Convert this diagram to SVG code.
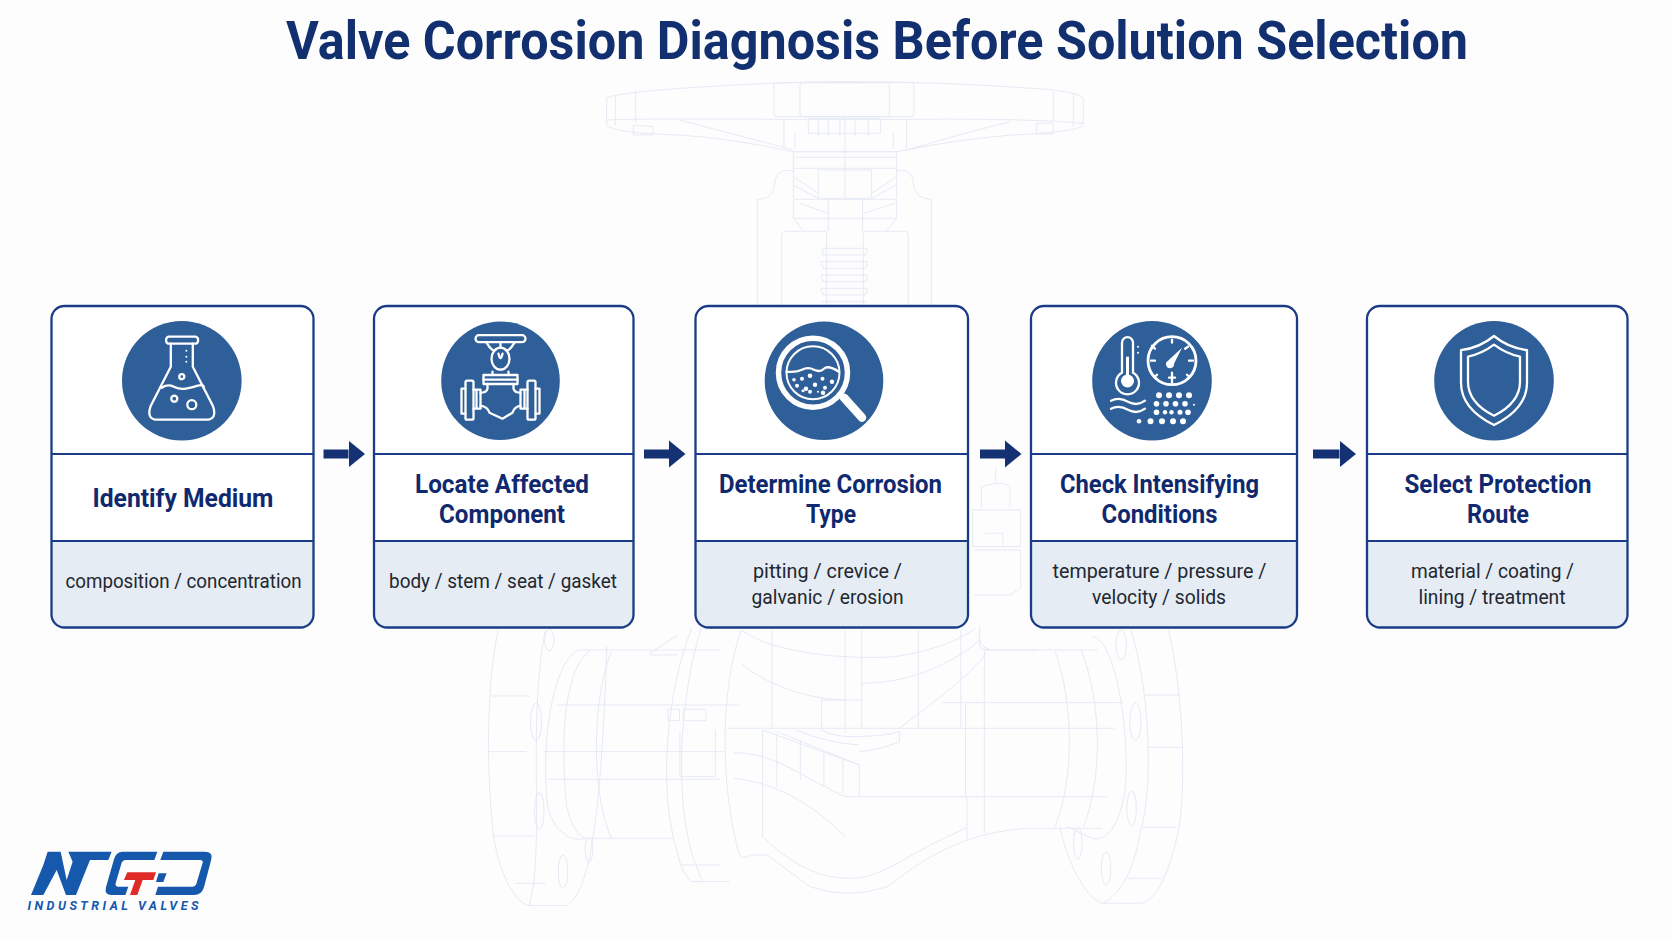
<svg xmlns="http://www.w3.org/2000/svg" width="1672" height="941" viewBox="0 0 1672 941">
<style>
.bg{fill:#fdfdfe}
.wm path,.wm line,.wm rect,.wm ellipse{fill:none;stroke:#e6eaf4;stroke-width:1;vector-effect:non-scaling-stroke}
.card{fill:#fff;stroke:none}
.panel{fill:#e6ecf4}
.frame{fill:none;stroke:#1a3c86;stroke-width:2.3}
.div{stroke:#1a3c86;stroke-width:2}
.disc{fill:#2f5f98}
.ic{fill:none;stroke:#fff;stroke-width:2.3;stroke-linecap:round;stroke-linejoin:round}
.dot{fill:#fff}
.t{font-family:Roboto,"Liberation Sans",sans-serif;font-weight:700;font-size:26px;fill:#10296e;text-anchor:middle}
.s{font-family:Roboto,"Liberation Sans",sans-serif;font-weight:400;font-size:20.5px;fill:#222730;text-anchor:middle}
.conn{stroke:#143273;stroke-width:9;fill:none}
.head{fill:#143273}
.logo{fill:#1558ac}
</style>
<defs>
<marker id="arr" markerUnits="userSpaceOnUse" markerWidth="17" markerHeight="28" refX="0" refY="14" orient="auto"><path class="head" d="M0,0.5 L16.5,14 L0,27.5Z"/></marker>
</defs>
<rect class="bg" width="1672" height="941"/>
<text id="title" x="877" y="59" font-family="Roboto,'Liberation Sans',sans-serif" font-weight="700" font-size="53" fill="#12306f" text-anchor="middle" textLength="1182" lengthAdjust="spacingAndGlyphs">Valve Corrosion Diagnosis Before Solution Selection</text>

<g id="watermark" class="wm">
<g transform="translate(580,70) scale(0.3333)">
<path d="M80,85 Q100,70 300,55 Q600,35 800,35 Q1100,35 1400,58 Q1500,68 1510,85 V165 Q1500,185 1300,195 Q1150,205 950,245 H640 Q450,205 300,195 Q100,190 80,165Z"/>
<path d="M80,150 Q200,145 600,148 H1000 Q1350,145 1510,160"/>
<path d="M106,75 V165 M167,60 V155 M1420,60 V155 M1480,70 V170"/>
<rect x="582" y="38" width="420" height="102" rx="8"/><rect x="660" y="38" width="268" height="102" rx="8"/>
<path d="M612,148 V235 M980,148 V235 M685,145 H902 V190 H685Z M715,150 V200 M745,150 V200 M780,150 V200 M825,150 V200 M865,150 V200 M645,190 V235 M940,190 V235 M300,150 Q450,190 640,240 M980,240 Q1150,190 1290,155 M160,165 L220,170 V195 H160Z M1370,160 H1420 V192 H1370Z"/>
<path d="M640,245 H950 V262 H640Z M640,262 V385 M950,262 V385 M640,295 H950 M715,300 H875 V385 H715Z M795,135 V385 M640,388 H950 M640,390 V445 L670,482 M950,390 V445 L920,482 M640,445 H950 M745,390 V482 M848,390 V482 M640,320 L715,370 M640,345 L715,385 M875,370 L950,320 M875,385 L950,345 M660,400 L745,430 M850,430 L945,400"/>
<path d="M640,302 H610 Q585,310 585,340 Q580,385 540,388 H532 V705 M950,302 H975 Q1000,310 1000,340 Q1005,385 1050,388 H1055 V705"/>
<path d="M605,705 V495 Q605,484 615,484 H740 V705 M850,705 V484 H975 Q985,484 985,495 V705"/>
<path d="M728,535 H860 M725,555 H860 M725,575 H860 M728,595 H855 M725,615 H860 M725,635 H860 M725,655 H860 M728,675 H855 M725,695 H860 M728,535 Q722,545 735,555 M860,535 Q866,545 852,555 M725,575 Q720,585 735,595 M860,575 Q866,585 855,595 M725,615 Q720,625 735,635 M860,615 Q866,625 855,635 M725,655 Q720,665 735,675 M860,655 Q866,665 855,675"/>
</g>
<g transform="translate(470,620) scale(0.4719,0.3333)">
<path d="M60,30 C40,150 30,400 50,650 C65,780 100,850 125,857 H205 C240,820 275,730 290,80"/>
<path d="M45,228 H125 M38,395 H120 M50,648 H135 M95,790 H160 M125,857 C160,700 120,300 160,30"/>
<ellipse cx="168" cy="60" rx="10" ry="32"/><ellipse cx="140" cy="305" rx="12" ry="56"/><ellipse cx="147" cy="573" rx="10" ry="55"/><ellipse cx="197" cy="755" rx="10" ry="50"/><ellipse cx="252" cy="690" rx="8" ry="37"/>
<path d="M230,90 C170,130 150,400 165,560 C175,620 205,670 245,655 H430 M255,90 C200,150 190,350 205,560 C215,620 230,650 245,655 M300,95 C265,200 250,500 300,655 M230,90 H530 M380,100 L440,45 M380,105 H440"/>
<path d="M155,395 H540 M185,255 H570 M165,478 H530 M445,335 V470 H520 V330"/>
<path d="M470,25 C420,200 395,500 440,700 C445,740 460,780 470,785 H550 M490,25 C450,200 430,500 470,700 C480,740 490,780 495,785 M445,735 H530"/>
<rect x="420" y="268" width="24" height="34"/><rect x="452" y="268" width="48" height="34"/>
<path d="M575,30 C530,200 530,500 570,700 C575,720 590,710 595,705 H630 L720,800 Q800,840 885,800 C950,730 1030,640 1180,625 H1340"/>
<path d="M620,650 C700,760 760,775 810,775 C880,770 900,720 1050,625 M560,475 C660,490 740,570 795,650 M560,398 C650,400 700,470 795,530 H1350 M545,325 H1365 M620,330 L825,435 M650,335 L825,435 V530 M620,330 V650 M650,340 L650,500 M700,360 V480 M750,395 V500 M790,420 V520"/>
<path d="M575,30 C640,100 800,120 900,110 C1000,90 1060,40 1070,25 M575,130 C620,190 720,240 795,240 V340 M830,190 C950,190 1040,110 1080,60 M640,30 V325 M795,30 V240 M830,30 V325 M950,30 V325 M1040,30 V325 M1090,90 V640 M1053,530 V660 M745,240 H830 M745,240 V330 Q760,345 800,350 Q880,350 910,335 V365 Q870,390 825,395 M825,375 Q760,370 690,330 M910,325 C960,270 1050,180 1095,100 M1080,30 Q1075,80 1100,88"/>
<path d="M1480,30 C1510,200 1520,500 1500,640 C1480,770 1450,850 1420,850 H1340 C1300,830 1265,720 1250,620 M1400,30 C1440,200 1450,500 1420,640 C1405,770 1370,830 1340,850"/>
<path d="M1430,225 H1505 M1435,382 H1510 M1425,622 H1495 M1395,775 H1465"/>
<ellipse cx="1380" cy="75" rx="11" ry="45"/><ellipse cx="1410" cy="305" rx="12" ry="56"/><ellipse cx="1402" cy="565" rx="10" ry="52"/><ellipse cx="1348" cy="745" rx="10" ry="50"/><ellipse cx="1288" cy="670" rx="9" ry="47"/>
<path d="M1320,50 C1365,60 1395,300 1390,480 C1385,600 1350,670 1320,655 C1290,640 1270,620 1265,620 M1095,90 H1330 M1240,95 C1280,250 1280,480 1240,620 M1295,90 C1340,250 1340,480 1300,620 M1000,248 H1385 M1050,525 V250"/>
</g>
<g transform="translate(560,280) scale(0.3571,0.3333)">
<path d="M1220,565 V610 M1180,680 V620 L1220,610 H1240 L1260,620 V680 M1155,690 H1290 V800 H1155Z M1160,810 H1290 V925 L1260,945 H1160 M1190,760 H1240 V800"/>
<path d="M1175,1040 V1100 Q1180,1110 1200,1110 H1330"/>
</g>
</g>

<g id="connectors">
<line class="conn" x1="323.5" y1="454" x2="348.5" y2="454" marker-end="url(#arr)"/>
<line class="conn" x1="644" y1="454" x2="669" y2="454" marker-end="url(#arr)"/>
<line class="conn" x1="980" y1="454" x2="1005" y2="454" marker-end="url(#arr)"/>
<line class="conn" x1="1313" y1="454" x2="1339.5" y2="454" marker-end="url(#arr)"/>
</g>

<g id="node-1">
<rect class="card" x="51.5" y="306" width="262" height="321.5" rx="13"/>
<path class="panel" d="M51.5,541 H313.5 V614.5 a13,13 0 0 1 -13,13 H64.5 a13,13 0 0 1 -13,-13Z"/>
<line class="div" x1="51.5" y1="454" x2="313.5" y2="454"/><line class="div" x1="51.5" y1="541" x2="313.5" y2="541"/>
<rect class="frame" x="51.5" y="306" width="262" height="321.5" rx="13"/>
<circle class="disc" cx="181.8" cy="380.7" r="59.8"/>
<g transform="translate(181.8,380.7)">
<path class="ic" d="M-11,-37 V-14 L-31,25 Q-36,39 -24,39 H24 Q36,39 31,25 L11,-14 V-37"/>
<rect class="ic" x="-15.7" y="-44" width="32" height="7" rx="3"/>
<path class="ic" d="M-20,7 Q-14,3 -8,6 T4,8 T16,5 T22,7"/>
<circle class="ic" cx="0" cy="-4" r="2.5"/><circle class="ic" cx="-7.5" cy="18" r="3"/><circle class="ic" cx="10" cy="24" r="4.5"/>
<circle class="dot" cx="4.6" cy="-30" r="1"/><circle class="dot" cx="4.6" cy="-24" r="1"/><circle class="dot" cx="4.6" cy="-19" r="1"/>
</g>
<text class="t" x="183" y="507" textLength="181" lengthAdjust="spacingAndGlyphs">Identify Medium</text>
<text class="s" x="183.5" y="588" textLength="236" lengthAdjust="spacingAndGlyphs">composition / concentration</text>
</g>

<g id="node-2">
<rect class="card" x="374" y="306" width="259.5" height="321.5" rx="13"/>
<path class="panel" d="M374,541 H633.5 V614.5 a13,13 0 0 1 -13,13 H387 a13,13 0 0 1 -13,-13Z"/>
<line class="div" x1="374" y1="454" x2="633.5" y2="454"/><line class="div" x1="374" y1="541" x2="633.5" y2="541"/>
<rect class="frame" x="374" y="306" width="259.5" height="321.5" rx="13"/>
<circle class="disc" cx="500.5" cy="380.7" r="59.3"/>
<g transform="translate(500.5,380.7)">
<rect class="ic" x="-25" y="-45.5" width="50" height="7" rx="3.5"/>
<ellipse class="ic" cx="0" cy="-22" rx="9" ry="11"/>
<path class="ic" d="M-14,-38 Q-8,-28 -5,-31 M14,-38 Q8,-28 5,-31 M0,-38 V-33 M-2,-27 Q0,-18 2,-27 M-8,-9 V-5.5 M8,-9 V-5.5"/>
<rect class="ic" x="-17" y="-5.7" width="34" height="9"/>
<path class="ic" d="M-17,-1 H17"/>
<path class="ic" d="M-13,3.3 V8 Q-14,12 -20,12 M13,3.3 V8 Q14,12 20,12 M-20,25 Q-13,26 -11,32 L2,38 L12,32 Q14,26 20,25"/>
<rect class="ic" x="-35" y="0" width="8" height="39" rx="1.5"/><rect class="ic" x="27" y="0" width="8" height="39" rx="1.5"/>
<path class="ic" d="M-35,8 H-39 V33 H-35 M35,8 H39 V33 H35 M-27,9 H-20 V28 H-27 M27,9 H20 V28 H27 M-24,9 V28 M24,9 V28"/>
</g>
<text class="t" x="502" y="493" textLength="174" lengthAdjust="spacingAndGlyphs">Locate Affected</text>
<text class="t" x="502" y="523" textLength="126" lengthAdjust="spacingAndGlyphs">Component</text>
<text class="s" x="503" y="588" textLength="228" lengthAdjust="spacingAndGlyphs">body / stem / seat / gasket</text>
</g>

<g id="node-3">
<rect class="card" x="695.5" y="306" width="272.5" height="321.5" rx="13"/>
<path class="panel" d="M695.5,541 H968 V614.5 a13,13 0 0 1 -13,13 H708.5 a13,13 0 0 1 -13,-13Z"/>
<line class="div" x1="695.5" y1="454" x2="968" y2="454"/><line class="div" x1="695.5" y1="541" x2="968" y2="541"/>
<rect class="frame" x="695.5" y="306" width="272.5" height="321.5" rx="13"/>
<circle class="disc" cx="824" cy="380.7" r="59.3"/>
<g transform="translate(824,380.7)">
<circle cx="-11" cy="-8" r="34.5" fill="none" stroke="#fff" stroke-width="5.5"/>
<circle cx="-11" cy="-8" r="26.5" fill="none" stroke="#fff" stroke-width="2"/>
<path class="ic" d="M-37.5,-9 Q-28,-8 -22,-11 T-10,-11 T0,-12 T15,-9"/>
<line x1="20" y1="17" x2="38" y2="37" stroke="#fff" stroke-width="8.5" stroke-linecap="round"/>
<g class="dot">
<circle cx="-30" cy="-1" r="1.8"/><circle cx="-22" cy="-2" r="2"/><circle cx="-14" cy="-5" r="2.3"/><circle cx="-1.5" cy="-2" r="2"/><circle cx="8" cy="1" r="2.2"/>
<circle cx="-27" cy="5" r="2"/><circle cx="-18" cy="8" r="2.2"/><circle cx="-9" cy="4" r="2.2"/><circle cx="1" cy="7" r="2"/>
<circle cx="-14" cy="11" r="2"/><circle cx="-6" cy="11" r="1"/><circle cx="-1" cy="12" r="2.2"/><circle cx="-21" cy="10" r="1.5"/>
</g>
</g>
<text class="t" x="830.5" y="493" textLength="223" lengthAdjust="spacingAndGlyphs">Determine Corrosion</text>
<text class="t" x="831" y="523" textLength="50" lengthAdjust="spacingAndGlyphs">Type</text>
<text class="s" x="827.5" y="578" textLength="149" lengthAdjust="spacingAndGlyphs">pitting / crevice /</text>
<text class="s" x="827.5" y="604" textLength="152" lengthAdjust="spacingAndGlyphs">galvanic / erosion</text>
</g>

<g id="node-4">
<rect class="card" x="1031" y="306" width="266" height="321.5" rx="13"/>
<path class="panel" d="M1031,541 H1297 V614.5 a13,13 0 0 1 -13,13 H1044 a13,13 0 0 1 -13,-13Z"/>
<line class="div" x1="1031" y1="454" x2="1297" y2="454"/><line class="div" x1="1031" y1="541" x2="1297" y2="541"/>
<rect class="frame" x="1031" y="306" width="266" height="321.5" rx="13"/>
<circle class="disc" cx="1152" cy="380.7" r="59.8"/>
<g transform="translate(1152,380.7)">
<path class="ic" d="M-30,-8 V-38 A5.5,5.5 0 0 1 -19,-38 V-8 A11.5,11.5 0 1 1 -30,-8Z"/>
<line x1="-24.5" y1="-24" x2="-24.5" y2="-2" stroke="#fff" stroke-width="3"/>
<circle class="dot" cx="-24.5" cy="0.3" r="6.5"/>
<circle class="dot" cx="-14" cy="-34" r="1"/><circle class="dot" cx="-14" cy="-28" r="1"/>
<circle cx="20" cy="-20" r="24" fill="none" stroke="#fff" stroke-width="2.8"/>
<path class="dot" d="M30,-33 L22,-17 A4,4 0 1 1 16,-20Z"/>
<path class="ic" d="M20,-41 V-38 M0,-35 L3,-32 M-1,-20 H3 M37,-20 H41 M20,-8 V2 M17,-3 H23 M36,-34 L33,-32 M4,-5 L5,-6 M36,-5 L35,-6"/>
<path class="ic" d="M-41,20 Q-33,16 -24,21 T-7,20 M-41,28 Q-33,24 -24,29 T-7,28"/>
<g class="dot">
<circle cx="7" cy="14.5" r="3"/><circle cx="17" cy="14.5" r="3"/><circle cx="27" cy="14.5" r="3"/><circle cx="37" cy="14.5" r="3"/>
<circle cx="4.5" cy="23" r="2.8"/><circle cx="14" cy="23" r="2.8"/><circle cx="23.5" cy="23" r="2.8"/><circle cx="33" cy="23" r="2.8"/><circle cx="42" cy="24" r="1"/>
<circle cx="4.5" cy="31.5" r="2.8"/><circle cx="13" cy="31.5" r="2.2"/><circle cx="19.5" cy="31.5" r="2.2"/><circle cx="28" cy="31.5" r="2.5"/><circle cx="36" cy="31.5" r="2.8"/>
<circle cx="-13" cy="40.5" r="2.3"/><circle cx="-1.5" cy="40.5" r="3"/><circle cx="10" cy="40.5" r="3"/><circle cx="21" cy="40.5" r="3"/><circle cx="31" cy="40.5" r="3"/>
</g>
</g>
<text class="t" x="1159.5" y="493" textLength="199" lengthAdjust="spacingAndGlyphs">Check Intensifying</text>
<text class="t" x="1159.5" y="523" textLength="116" lengthAdjust="spacingAndGlyphs">Conditions</text>
<text class="s" x="1159.5" y="578" textLength="214" lengthAdjust="spacingAndGlyphs">temperature / pressure /</text>
<text class="s" x="1159" y="604" textLength="134" lengthAdjust="spacingAndGlyphs">velocity / solids</text>
</g>

<g id="node-5">
<rect class="card" x="1367" y="306" width="260.5" height="321.5" rx="13"/>
<path class="panel" d="M1367,541 H1627.5 V614.5 a13,13 0 0 1 -13,13 H1380 a13,13 0 0 1 -13,-13Z"/>
<line class="div" x1="1367" y1="454" x2="1627.5" y2="454"/><line class="div" x1="1367" y1="541" x2="1627.5" y2="541"/>
<rect class="frame" x="1367" y="306" width="260.5" height="321.5" rx="13"/>
<circle class="disc" cx="1494" cy="380.7" r="59.8"/>
<g transform="translate(1494,380.7)">
<path class="ic" stroke-linejoin="miter" d="M0,-44.7 Q14,-33 33,-30.5 V2 Q33,28 0,44.3 Q-33,28 -33,2 V-30.5 Q-14,-33 0,-44.7Z"/>
<path class="ic" d="M0,-36 Q12,-27 26,-24 V1 Q26,22 0,35 Q-26,22 -26,1 V-24 Q-12,-27 0,-36Z"/>
</g>
<text class="t" x="1498" y="493" textLength="187" lengthAdjust="spacingAndGlyphs">Select Protection</text>
<text class="t" x="1498" y="523" textLength="62" lengthAdjust="spacingAndGlyphs">Route</text>
<text class="s" x="1492.5" y="578" textLength="163" lengthAdjust="spacingAndGlyphs">material / coating /</text>
<text class="s" x="1492" y="604" textLength="147" lengthAdjust="spacingAndGlyphs">lining / treatment</text>
</g>

<g id="logo">
<g transform="translate(0,830) scale(0.3333)">
<path class="logo" d="M93,195 L130,105 L143,65 H182 L200,150 L218,95 L205,65 H335 L325,90 H270 L228,195 H198 L170,120 L130,195Z"/>
<path class="logo" d="M240,90 H262 L222,190 L212,160Z"/>
<path class="logo" d="M368,65 H472 L463,90 H376 Q368,90 365,98 L347,160 Q345,170 355,170 H385 L376,195 H335 Q312,195 318,172 L342,88 Q348,65 368,65Z"/>
<path class="logo" d="M490,65 H615 Q640,65 634,88 L612,172 Q605,195 582,195 H466 L474,170 H578 Q586,170 589,162 L608,98 Q610,90 600,90 H481Z M476,130 H500 L490,156 H468Z"/>
<path fill="#e02a27" d="M382,127 H468 L460,150 H428 L412,195 H390 L406,150 H372Z"/>
</g>
<text x="27.5" y="910" font-family="Roboto,'Liberation Sans',sans-serif" font-weight="700" font-style="italic" font-size="12.5" fill="#1558ac" textLength="171">INDUSTRIAL VALVES</text>
</g>
</svg>
